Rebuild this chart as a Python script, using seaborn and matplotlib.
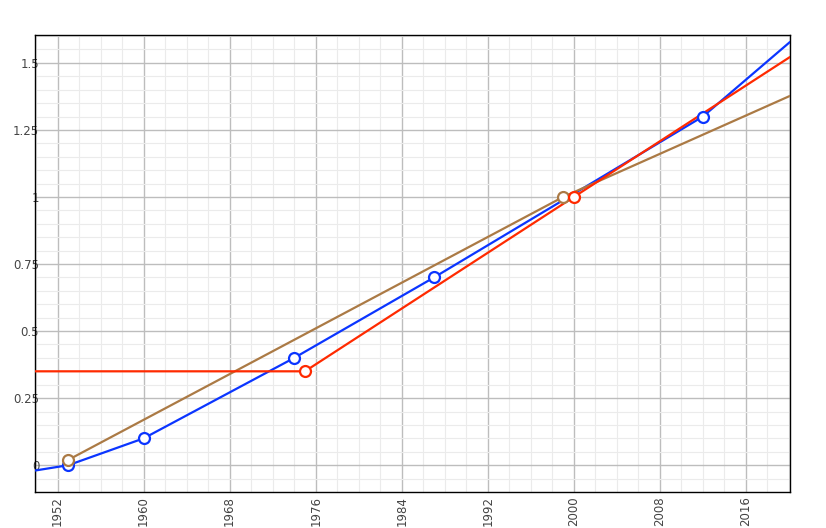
import pandas as pd
import seaborn as sns
import matplotlib.pyplot as plt
from matplotlib.ticker import MultipleLocator, FuncFormatter

# ───────────────────────
# Data
# ───────────────────────
blue_years = [1949.9, 1953, 1960, 1974, 1987, 2012, 2020.1]
blue_vals = [-0.02, 0.0, 0.1, 0.4, 0.7, 1.3, 1.578]
blue_mark_years = [1953, 1960, 1974, 1987, 2012]
blue_mark_vals = [0.0, 0.1, 0.4, 0.7, 1.3]

red_years = [1949.9, 1975, 2000, 2020.1]
red_vals = [0.35, 0.35, 1.0, 1.522]
red_mark_years = [1975, 2000]
red_mark_vals = [0.35, 1.0]

brown_years = [1953, 1999, 2020.1]
brown_vals = [0.02, 1.0, 1.377]
brown_mark_years = [1953, 1999]
brown_mark_vals = [0.02, 1.0]

x_ticks = [1952, 1960, 1968, 1976, 1984, 1992, 2000, 2008, 2016]
y_ticks = [0, 0.25, 0.5, 0.75, 1, 1.25, 1.5]

colors = {"blue": "#0b35ff", "red": "#ff2a00", "brown": "#ab7a45"}

lines = pd.concat([
    pd.DataFrame({"year": blue_years, "value": blue_vals, "series": "blue"}),
    pd.DataFrame({"year": red_years, "value": red_vals, "series": "red"}),
    pd.DataFrame({"year": brown_years, "value": brown_vals, "series": "brown"}),
])
marks = pd.concat([
    pd.DataFrame({"year": blue_mark_years, "value": blue_mark_vals, "series": "blue"}),
    pd.DataFrame({"year": brown_mark_years, "value": brown_mark_vals, "series": "brown"}),
    pd.DataFrame({"year": red_mark_years, "value": red_mark_vals, "series": "red"}),
])

sns.set_style("white")
plt.rcParams["font.family"] = ["DejaVu Sans"]

fig = plt.figure(figsize=(8.26, 5.28), dpi=100)
ax = fig.add_axes([35 / 826, 1 - 492 / 528, 755 / 826, 457 / 528])

# ───────────────────────
# Lines and markers
# ───────────────────────
for name in ["blue", "brown", "red"]:
    sub = lines[lines["series"] == name]
    sns.lineplot(data=sub, x="year", y="value", color=colors[name],
                 linewidth=1.6, sort=False, estimator=None, ax=ax, zorder=3)

for name in ["blue", "brown", "red"]:
    sub = marks[marks["series"] == name]
    sns.scatterplot(data=sub, x="year", y="value", color="white",
                    edgecolor=colors[name], linewidth=1.6, s=62, ax=ax, zorder=4)

# ───────────────────────
# Axes styling
# ───────────────────────
ax.set_xlim(1949.9, 2020.1)
ax.set_ylim(-0.1, 1.604)
ax.set_xticks(x_ticks)
ax.set_yticks(y_ticks)
ax.xaxis.set_minor_locator(MultipleLocator(2))
ax.yaxis.set_minor_locator(MultipleLocator(0.05))
ax.yaxis.set_major_formatter(FuncFormatter(lambda v, p: f"{v:g}"))

ax.grid(True, which="major", color="#bdbdbd", linewidth=1.0, zorder=1)
ax.grid(True, which="minor", color="#ebebeb", linewidth=0.8, zorder=0)
ax.set_axisbelow(True)

ax.tick_params(axis="both", which="both", length=0, labelsize=8.5, labelcolor="#444444")
ax.tick_params(axis="y", pad=-3)
ax.tick_params(axis="x", pad=3, labelrotation=90)

for sp in ax.spines.values():
    sp.set_visible(True)
    sp.set_color("black")
    sp.set_linewidth(1.0)

ax.set_xlabel("")
ax.set_ylabel("")

fig.savefig("out.png", dpi=100)
